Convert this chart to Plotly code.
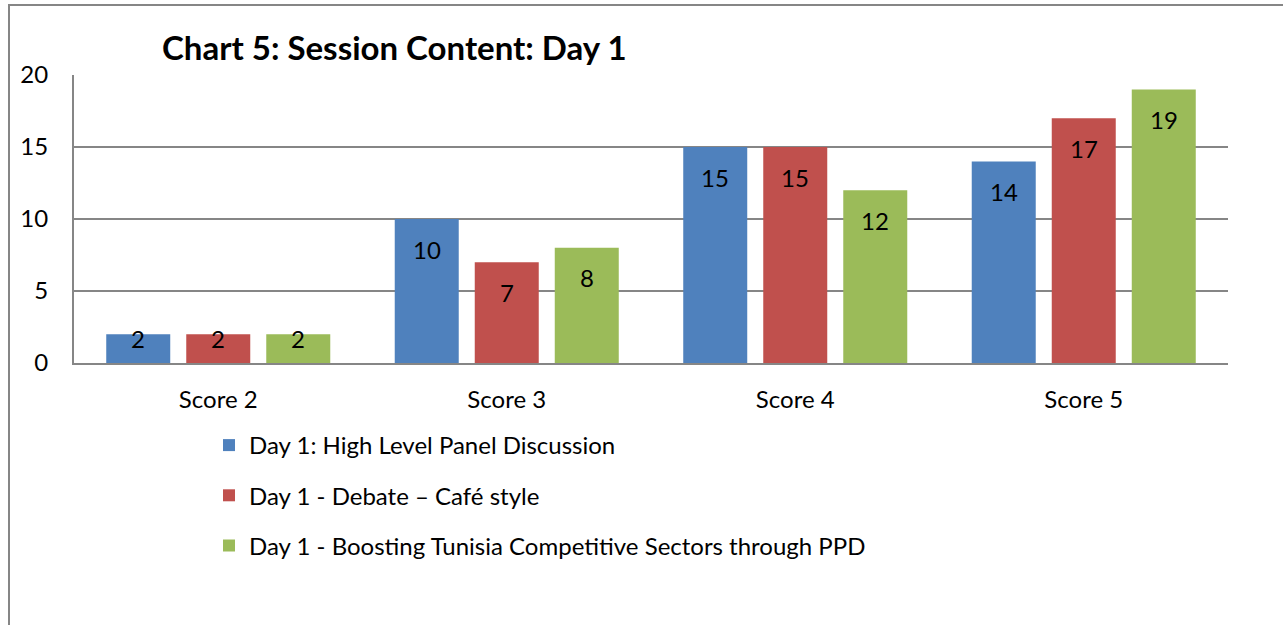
import plotly.graph_objects as go

categories = ["Score 2", "Score 3", "Score 4", "Score 5"]
series_names = [
    "Day 1: High Level Panel Discussion",
    "Day 1 - Debate \u2013 Caf\u00e9 style",
    "Day 1 - Boosting Tunisia Competitive Sectors through PPD",
]
panel_values = [2, 10, 15, 14]
debate_values = [2, 7, 15, 17]
boosting_values = [2, 8, 12, 19]
y_ticks = [0, 5, 10, 15, 20]
title_text = "Chart 5: Session Content: Day 1"

colors = ["#4F81BD", "#C0504D", "#9BBB59"]
all_values = [panel_values, debate_values, boosting_values]

W, H = 1283, 625
ML, MR, MT, MB = 74, 55, 75, 262
plot_w = W - ML - MR
plot_h = H - MT - MB
bargap = 0.168
ymax = 20
px_per_unit = plot_h / ymax
cat_w = plot_w / len(categories)
slot = cat_w * (1 - bargap) / 3

FONT = "Lato, Carlito, Calibri, sans-serif"
FS = 24

fig = go.Figure()
for name, vals, col in zip(series_names, all_values, colors):
    fig.add_trace(go.Bar(
        x=categories, y=vals, name=name, marker=dict(color=col, line=dict(width=0)),
        legendgroup=name,
    ))

annotations = []
for si, vals in enumerate(all_values):
    for cat, v in zip(categories, vals):
        shift = min(30, v * px_per_unit - 25)
        annotations.append(dict(
            x=cat, y=v, xref="x", yref="y", text=str(v), showarrow=False,
            xshift=(si - 1) * slot, yshift=-shift, yanchor="middle",
            font=dict(family=FONT, size=FS, color="#000000"),
        ))

fig.update_layout(
    width=W, height=H,
    margin=dict(l=ML, r=MR, t=MT, b=MB),
    paper_bgcolor="white", plot_bgcolor="white",
    barmode="group", bargap=bargap, bargroupgap=0.2,
    font=dict(family=FONT, size=FS, color="#000000"),
    title=dict(text="<b>" + title_text + "</b>", xref="container", yref="container",
               x=162 / W, xanchor="left", y=1 - 48 / H, yanchor="middle",
               font=dict(family=FONT, size=33, color="#000000")),
    showlegend=True,
    legend=dict(x=(209 - ML) / plot_w, xanchor="left", y=(363 - 423) / plot_h,
                yanchor="top", orientation="v", tracegroupgap=16,
                font=dict(family=FONT, size=FS, color="#000000"),
                bgcolor="rgba(0,0,0,0)"),
    annotations=annotations,
    shapes=[dict(type="rect", xref="paper", yref="paper",
                 x0=(9 - ML) / plot_w, x1=1.2, y0=-1.5, y1=1 + (MT - 5) / plot_h,
                 line=dict(color="#868686", width=2), fillcolor="rgba(0,0,0,0)", layer="below")],
)
fig.update_xaxes(showgrid=False, showline=True, linecolor="#868686", linewidth=2,
                 ticks="", ticklabelstandoff=14, tickfont=dict(size=FS), fixedrange=True)
fig.update_yaxes(range=[0, ymax], tickvals=y_ticks, showgrid=True, gridcolor="#868686", gridwidth=2,
                 showline=True, linecolor="#868686", linewidth=2, zeroline=False,
                 ticks="", ticklabelstandoff=19, tickfont=dict(size=FS), fixedrange=True)

fig.write_html("out.html", config={"displayModeBar": False},
               post_script="document.body.style.margin='0';document.body.style.overflow='hidden';")
